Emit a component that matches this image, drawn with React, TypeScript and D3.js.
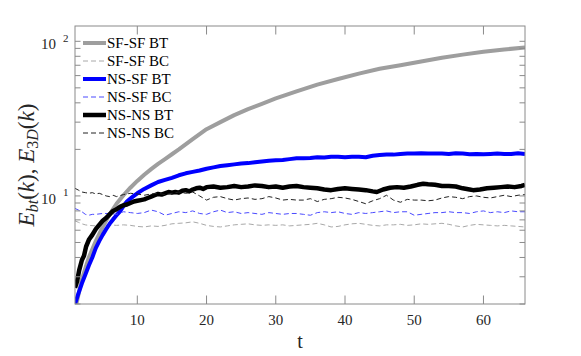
import React from 'react';
import * as d3 from 'd3';

// [t, E] pairs
const sfsfBT: [number, number][] = [[1.2,2.0],[1.5,2.3],[2,2.9],[3,4.0],[4,5.1],[5,6.3],[6,7.6],[7,8.9],[8,10.1],[9,11.3],[10,12.5],[11,13.7],[12,14.9],[13,16.1],[14,17.3],[15,18.6],[16,20.0],[18,23.3],[20,27.0],[22,30.0],[24,33.3],[26,36.4],[28,39.4],[30,42.7],[33,47.5],[36,52.5],[39,57.0],[42,61.8],[45,66.5],[48,70.0],[51,74.0],[54,78.3],[57,82.0],[60,85.5],[63,88.5],[66,91.3]];

const sfsfBC: [number, number][] = [[1,6.9],[1.5,6.75],[2,6.6],[2.5,6.5],[3,6.45],[4,6.4],[5,6.45],[6,6.5],[7,6.45],[8,6.5],[9,6.45],[10,6.35],[11,6.3],[12,6.4],[13,6.35],[14,6.45],[15,6.6],[16,6.65],[17,6.7],[18,6.8],[19,6.65],[20,6.45],[21,6.35],[22,6.3],[23,6.4],[24,6.5],[25,6.55],[26,6.6],[27,6.5],[28,6.45],[29,6.5],[30,6.45],[31,6.5],[32,6.4],[33,6.45],[34,6.5],[35,6.55],[36,6.65],[37,6.5],[38,6.3],[39,6.35],[40,6.5],[41,6.6],[42,6.65],[43,6.55],[44,6.45],[45,6.4],[46,6.5],[47,6.5],[48,6.55],[49,6.45],[50,6.5],[51,6.6],[52,6.55],[53,6.6],[54,6.65],[55,6.55],[56,6.4],[57,6.3],[58,6.45],[59,6.55],[60,6.5],[61,6.45],[62,6.4],[63,6.45],[64,6.4],[65,6.35],[66,6.3]];

const nssfBT: [number, number][] = [[1,2.0],[1.5,2.34],[2,2.72],[2.5,3.1],[3,3.55],[3.5,4.0],[4,4.6],[4.5,5.1],[5,5.6],[5.5,6.1],[6,6.6],[6.5,7.05],[7,7.5],[7.5,7.95],[8,8.6],[8.5,9.2],[9,9.6],[9.5,10.0],[10,10.4],[11,11.1],[12,11.7],[13,12.3],[14,12.7],[15,13.1],[16,13.6],[17,14.0],[18,14.3],[19,14.6],[20,15.0],[21,15.3],[22,15.6],[23,15.8],[24,16.0],[25,16.2],[26,16.3],[27,16.5],[28,16.7],[29,16.9],[30,17.0],[31,17.1],[32,17.3],[33,17.5],[34,17.5],[35,17.6],[36,17.8],[37,17.7],[38,17.9],[39,17.9],[40,17.8],[41,17.9],[42,17.9],[43,17.8],[44,18.2],[45,18.4],[46,18.5],[47,18.5],[48,18.7],[49,18.8],[50,18.8],[51,18.9],[52,18.8],[53,18.8],[54,18.8],[55,18.7],[56,18.9],[57,18.8],[58,18.6],[59,18.7],[60,18.6],[61,18.7],[62,18.8],[63,18.7],[64,18.7],[65,18.9],[66,18.7]];

const nssfBC: [number, number][] = [[1,8.3],[1.5,8.1],[2,7.9],[2.5,7.6],[3,7.5],[3.5,7.6],[4,7.6],[5,7.7],[6,7.7],[7,7.6],[8,7.9],[9,7.8],[10,7.7],[11,7.8],[12,8.1],[13,7.9],[14,7.5],[15,7.7],[16,7.9],[17,7.8],[18,8.0],[19,7.7],[20,7.6],[21,7.9],[22,8.1],[23,7.8],[24,7.9],[25,7.7],[26,7.8],[27,7.7],[28,7.6],[29,7.8],[30,7.7],[31,7.6],[32,7.7],[33,7.7],[34,7.6],[35,7.5],[36,7.8],[37,7.9],[38,7.8],[39,7.9],[40,7.7],[41,7.6],[42,7.8],[43,7.7],[44,7.8],[45,7.9],[46,8.0],[47,7.8],[48,7.9],[49,7.9],[50,7.5],[51,7.6],[52,7.7],[53,7.8],[54,7.8],[55,7.9],[56,7.8],[57,7.8],[58,7.7],[59,7.9],[60,8.0],[61,7.8],[62,7.9],[63,7.8],[64,8.0],[65,7.9],[66,7.9]];

const nsnsBT: [number, number][] = [[1,2.55],[1.3,2.8],[1.6,3.3],[2,3.85],[2.3,4.1],[2.6,4.7],[3,5.2],[3.5,5.6],[4,6.1],[4.5,6.5],[5,6.9],[5.5,7.2],[6,7.6],[6.5,8.0],[7,8.2],[7.5,8.5],[8,8.7],[8.5,8.8],[9,9.0],[9.5,9.2],[10,9.3],[10.5,9.4],[11,9.5],[11.5,9.7],[12,9.9],[12.5,10.1],[13,10.3],[13.5,10.2],[14,10.4],[14.5,10.6],[15,10.5],[15.5,10.6],[16,10.5],[16.5,10.8],[17,10.9],[17.5,10.7],[18,11.0],[18.5,11.2],[19,11.3],[19.5,11.1],[20,11.4],[21,11.5],[22,11.3],[23,11.4],[24,11.6],[25,11.4],[26,11.5],[27,11.7],[28,11.6],[29,11.4],[30,11.5],[31,11.3],[32,11.5],[33,11.6],[34,11.4],[35,11.3],[36,11.2],[37,11.0],[38,10.9],[39,11.1],[40,11.2],[41,11.1],[42,11.0],[43,10.9],[44,10.7],[44.6,10.6],[45.5,11.0],[46.5,11.3],[47.5,11.4],[48.5,11.3],[49.5,11.5],[50.5,11.8],[51.3,12.0],[52,11.9],[53,11.8],[54,11.6],[55,11.6],[56,11.5],[57,11.2],[58,11.0],[58.5,10.9],[59.5,11.0],[60.5,11.2],[61.5,11.3],[62.5,11.4],[63.5,11.5],[64.5,11.4],[65.5,11.6],[66,11.8]];

const nsnsBC: [number, number][] = [[1,11.2],[1.5,10.9],[2,10.6],[2.5,10.5],[3,10.4],[3.5,10.5],[4,10.3],[4.5,10.4],[5,10.2],[5.5,10.0],[6,9.9],[6.5,10.1],[7,9.9],[8,10.2],[9,10.4],[10,10.3],[11,10.1],[12,10.3],[13,10.4],[14,10.2],[15,10.4],[16,10.6],[17,10.4],[18,10.6],[19,10.0],[20,9.4],[21,9.8],[22,9.9],[23,9.6],[24,9.4],[25,9.6],[26,9.7],[27,9.5],[28,9.6],[29,9.9],[30,9.7],[31,9.4],[32,9.5],[33,9.4],[34,9.4],[35,9.6],[36,9.2],[37,9.5],[38,9.6],[39,9.8],[40,9.7],[41,9.5],[42,9.2],[43,8.9],[44,9.3],[45,9.6],[46,10.1],[47,9.4],[48,9.1],[49,9.5],[50,9.4],[51,9.4],[52,9.3],[53,9.4],[54,9.7],[55,9.9],[56,9.8],[57,9.6],[58,9.9],[59,10.0],[60,9.8],[61,9.7],[62,9.9],[63,10.1],[64,9.9],[65,10.1],[66,10.2]];

const seriesNames = ['SF-SF BT', 'SF-SF BC', 'NS-SF BT', 'NS-SF BC', 'NS-NS BT', 'NS-NS BC'];
const xTicks = [10, 20, 30, 40, 50, 60];
const yMajor = [10, 100];
const yMinor = [2, 3, 4, 5, 6, 7, 8, 9, 20, 30, 40, 50, 60, 70, 80, 90];

const allSeries = [sfsfBT, sfsfBC, nssfBT, nssfBC, nsnsBT, nsnsBC];
const styles = [
  { stroke: '#9e9e9e', width: 4, dash: '' },
  { stroke: '#a8a8a8', width: 1, dash: '5,3' },
  { stroke: '#0000ff', width: 4, dash: '' },
  { stroke: '#4a4aff', width: 1, dash: '5,3' },
  { stroke: '#000000', width: 4.5, dash: '' },
  { stroke: '#222222', width: 1, dash: '5,3' },
];

const left = 75, right = 525, top = 26, bottom = 304;
const axisCol = '#8a8a8a';
const font = 'Liberation Serif, Tinos, Times, DejaVu Serif, serif';

export default function App() {
  const x = d3.scaleLinear().domain([1, 66]).range([left, right]);
  const y = d3.scaleLog().domain([2, 125.6]).range([bottom, top]);
  const line = d3.line<[number, number]>().x(d => x(d[0])).y(d => y(d[1]));

  return (
    <svg width={581} height={356} style={{ position: 'absolute', left: 0, top: 0, background: '#fff', fontFamily: font }}>
      <defs>
        <clipPath id="plotClip">
          <rect x={left} y={top} width={right - left} height={bottom - top} />
        </clipPath>
      </defs>
      <rect x={0} y={0} width={581} height={356} fill="#fff" />

      {/* curves */}
      <g clipPath="url(#plotClip)">
        {allSeries.map((s, i) => (
          <path key={seriesNames[i]} d={line(s) || ''} fill="none" stroke={styles[i].stroke}
            strokeWidth={styles[i].width} strokeDasharray={styles[i].dash || undefined}
            strokeLinejoin="round" />
        ))}
      </g>

      {/* box */}
      <rect x={left} y={top} width={right - left} height={bottom - top} fill="none" stroke={axisCol} strokeWidth={1} />

      {/* x ticks */}
      {xTicks.map(t => (
        <g key={'x' + t}>
          <line x1={x(t)} x2={x(t)} y1={bottom} y2={bottom - 8.5} stroke={axisCol} />
          <line x1={x(t)} x2={x(t)} y1={top} y2={top + 8.5} stroke={axisCol} />
          <text x={x(t)} y={325} textAnchor="middle" fontSize={15} fill="#262626">{t}</text>
        </g>
      ))}

      {/* y ticks */}
      {yMajor.concat(yMinor).map(v => (
        <g key={'y' + v}>
          <line x1={left} x2={left + 5.5} y1={y(v)} y2={y(v)} stroke={axisCol} />
          <line x1={right} x2={right - 5.5} y1={y(v)} y2={y(v)} stroke={axisCol} />
        </g>
      ))}
      {yMajor.map(v => (
        <g key={'yl' + v} fill="#262626">
          <text x={56} y={y(v) + 8} textAnchor="end" fontSize={15}>10</text>
          <text x={63} y={y(v) + 0.5} fontSize={11}>{Math.round(Math.log10(v))}</text>
        </g>
      ))}

      {/* axis labels */}
      <text x={300} y={348} textAnchor="middle" fontSize={20} fill="#262626">t</text>
      <text transform={`translate(34,${(top + bottom) / 2}) rotate(-90)`} textAnchor="middle"
        fontSize={23} fill="#262626">
        <tspan fontStyle="italic">E</tspan>
        <tspan fontStyle="italic" fontSize={16} dy={4}>bt</tspan>
        <tspan dy={-4}>(</tspan><tspan fontStyle="italic">k</tspan><tspan>), </tspan>
        <tspan fontStyle="italic">E</tspan>
        <tspan fontSize={16} dy={4}>3</tspan><tspan fontStyle="italic" fontSize={16}>D</tspan>
        <tspan dy={-4}>(</tspan><tspan fontStyle="italic">k</tspan><tspan>)</tspan>
      </text>

      {/* legend */}
      {seriesNames.map((n, i) => {
        const ly = 43 + i * 18;
        return (
          <g key={'lg' + n}>
            <line x1={83} x2={106} y1={ly} y2={ly} stroke={styles[i].stroke}
              strokeWidth={styles[i].width} strokeDasharray={styles[i].dash || undefined} />
            <text x={107} y={ly + 5} fontSize={15} fill="#000">{n}</text>
          </g>
        );
      })}
    </svg>
  );
}
